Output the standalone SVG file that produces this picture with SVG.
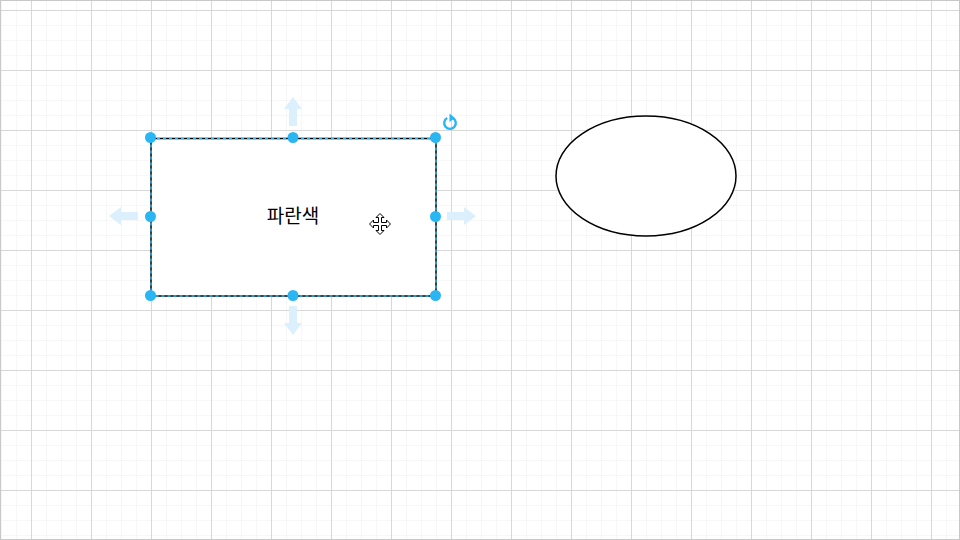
<svg xmlns="http://www.w3.org/2000/svg" width="960" height="540" viewBox="0 0 960 540">
<defs>
<pattern id="minor" x="1" y="10" width="15" height="15" patternUnits="userSpaceOnUse">
<path d="M0 0H15M0 0V15" stroke="#efefef" stroke-width="1" fill="none"/>
</pattern>
<pattern id="major" x="31" y="10" width="60" height="60" patternUnits="userSpaceOnUse">
<path d="M0 0.5H60M0.5 0V60" stroke="#d8d8d8" stroke-width="1" fill="none"/>
</pattern>
<g id="hint">
<path d="M0 -19 L9 -7 L4 -7 L4 10 L-4 10 L-4 -7 L-9 -7 Z" fill="#dbeffc"/>
</g>
</defs>
<style>
.handle{fill:#29b6f2}
.lbl{font-family:"Noto Sans CJK KR","Noto Sans",sans-serif;font-size:19px;fill:#000}
</style>
<rect width="960" height="540" fill="#ffffff"/>
<rect width="960" height="540" fill="url(#minor)"/>
<rect width="960" height="540" fill="url(#major)"/>
<rect x="0.5" y="0.5" width="959" height="539" fill="none" stroke="#c8c8c8"/>
<g id="connectors"></g>
<g id="node-blue">
<rect x="151" y="138.5" width="285" height="157.5" fill="#ffffff" stroke="#000" stroke-width="1.5"/>
<rect x="151" y="138.5" width="285" height="157.5" fill="none" stroke="#29b6f2" stroke-width="1.5" stroke-dasharray="3 3"/>
<text class="lbl" x="293" y="223" text-anchor="middle">파란색</text>
</g>
<g id="node-ellipse">
<ellipse cx="646" cy="176" rx="90" ry="60" fill="#ffffff" stroke="#000" stroke-width="1.5"/>
</g>
<g id="selection">
<use href="#hint" transform="translate(293,116)"/>
<use href="#hint" transform="translate(293,316) rotate(180)"/>
<use href="#hint" transform="translate(128,216) rotate(-90)"/>
<use href="#hint" transform="translate(457,216) rotate(90)"/>
<circle class="handle" cx="150.5" cy="137.5" r="5.5"/>
<circle class="handle" cx="293" cy="137.5" r="5.5"/>
<circle class="handle" cx="435.5" cy="137.5" r="5.5"/>
<circle class="handle" cx="150.5" cy="216.5" r="5.5"/>
<circle class="handle" cx="435.5" cy="216.5" r="5.5"/>
<circle class="handle" cx="150.5" cy="295.5" r="5.5"/>
<circle class="handle" cx="293" cy="295.5" r="5.5"/>
<circle class="handle" cx="435.5" cy="295.5" r="5.5"/>
<g transform="translate(450,123)">
<path d="M-2.8 -5 A5.8 5.8 0 1 0 2.8 -5" fill="none" stroke="#29b6f2" stroke-width="2.4"/>
<path d="M-0.5 -9.5 L5 -5 L-0.5 -1 Z" fill="#29b6f2"/>
</g>
<g transform="translate(380,224)">
<path d="M0 -10.5 L4 -6.5 L1.5 -6.5 L1.5 -1.5 L6.5 -1.5 L6.5 -4 L10.5 0 L6.5 4 L6.5 1.5 L1.5 1.5 L1.5 6.5 L4 6.5 L0 10.5 L-4 6.5 L-1.5 6.5 L-1.5 1.5 L-6.5 1.5 L-6.5 4 L-10.5 0 L-6.5 -4 L-6.5 -1.5 L-1.5 -1.5 L-1.5 -6.5 L-4 -6.5 Z" fill="#ffffff" stroke="#000" stroke-width="1"/>
</g>
</g>
</svg>
